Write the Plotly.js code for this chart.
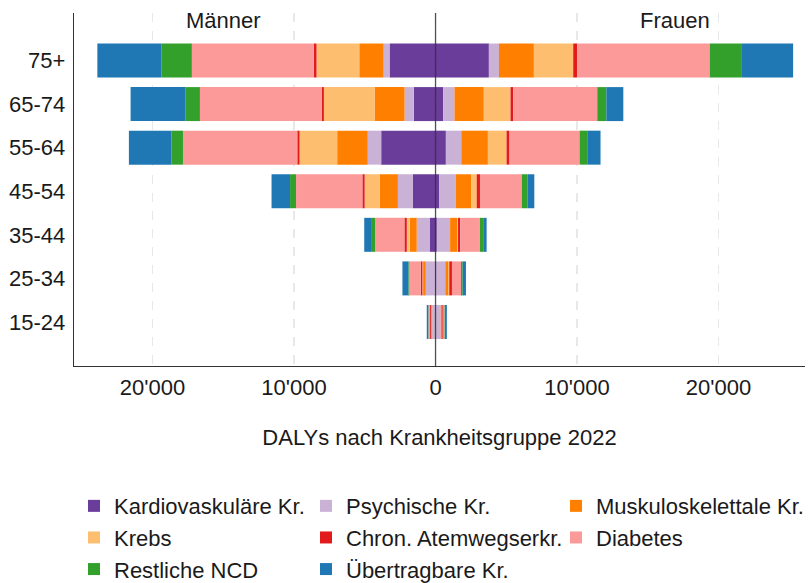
<!DOCTYPE html>
<html>
<head>
<meta charset="utf-8">
<script src="https://cdn.plot.ly/plotly-3.0.1.min.js"></script>
<style>html,body{margin:0;padding:0;background:#fff}#chart{width:809px;height:583px}</style>
</head>
<body>
<div id="chart"></div>
<script>
// Age groups (bottom to top)
const ageGroups = ['15-24', '25-34', '35-44', '45-54', '55-64', '65-74', '75+'];

// Disease groups (stacking order from centre outward)
const diseases = ['Kardiovaskuläre Kr.', 'Psychische Kr.', 'Muskuloskelettale Kr.', 'Krebs',
                  'Chron. Atemwegserkr.', 'Diabetes', 'Restliche NCD', 'Übertragbare Kr.'];
const colors = ['#6a3d9a', '#cab2d6', '#ff7f00', '#fdbf6f', '#e31a1c', '#fb9a99', '#33a02c', '#1f78b4'];

// DALYs, men (by age group, same order as ageGroups)
const menKardio   = [20, 50, 390, 1600, 3840, 1530, 3250];
const menPsych    = [220, 640, 940, 1060, 950, 660, 420];
const menMuskulo  = [70, 190, 490, 1290, 2160, 2120, 1720];
const menKrebs    = [20, 50, 210, 1060, 2660, 3580, 3020];
const menChron    = [90, 120, 170, 160, 160, 140, 190];
const menDiabetes = [70, 800, 2070, 4690, 8080, 8620, 8620];
const menRestl    = [20, 70, 230, 420, 820, 1010, 2140];
const menUebertr  = [110, 420, 540, 1310, 3000, 3890, 4540];

// DALYs, women
const womenKardio   = [20, 30, 90, 270, 730, 540, 3770];
const womenPsych    = [350, 660, 940, 1160, 1090, 800, 710];
const womenMuskulo  = [90, 230, 490, 1080, 1880, 2070, 2470];
const womenKrebs    = [20, 50, 70, 400, 1320, 1890, 2780];
const womenChron    = [90, 190, 160, 230, 210, 190, 280];
const womenDiabetes = [70, 640, 1390, 2950, 4950, 5940, 9370];
const womenRestl    = [20, 120, 230, 400, 540, 640, 2220];
const womenUebertr  = [140, 230, 240, 490, 940, 1200, 3670];

const tickVals = [-20000, -10000, 0, 10000, 20000];
const tickText = ["20'000", "10'000", "0", "10'000", "20'000"];

const menData = [menKardio, menPsych, menMuskulo, menKrebs, menChron, menDiabetes, menRestl, menUebertr];
const womenData = [womenKardio, womenPsych, womenMuskulo, womenKrebs, womenChron, womenDiabetes, womenRestl, womenUebertr];
const legendOf = ['legend', 'legend2', 'legend3', 'legend', 'legend2', 'legend3', 'legend', 'legend2'];

const traces = [];
diseases.forEach((d, i) => {
  traces.push({
    type: 'bar', orientation: 'h', name: d, legendgroup: d, showlegend: false,
    y: ageGroups, x: menData[i].map(v => -v),
    marker: {color: colors[i], line: {width: 0}}, hoverinfo: 'skip'
  });
  traces.push({
    type: 'bar', orientation: 'h', name: d, legendgroup: d, showlegend: true, legend: legendOf[i],
    y: ageGroups, x: womenData[i],
    marker: {color: colors[i], line: {width: 0}}, hoverinfo: 'skip'
  });
});

const font = {family: 'Liberation Sans, Arial, sans-serif', size: 22, color: '#1a1a1a'};
const legendBase = {font: font, orientation: 'v', xref: 'paper', yref: 'container',
                    yanchor: 'top', y: 0.168, xanchor: 'left',
                    bgcolor: 'rgba(0,0,0,0)', tracegroupgap: 0, itemclick: false};

const layout = {
  width: 809, height: 583,
  margin: {l: 74, r: 4, t: 13, b: 217},
  paper_bgcolor: '#fff', plot_bgcolor: '#fff',
  font: font,
  barmode: 'relative', bargap: 0.22,
  xaxis: {
    range: [-25550, 26110], tickvals: tickVals, ticktext: tickText,
    showgrid: true, gridcolor: '#e8e8e8', griddash: 'dash', gridwidth: 1.5,
    zeroline: false, showline: true, linecolor: '#333', linewidth: 1.3,
    ticks: '', ticklabelstandoff: 1, tickfont: font,
    title: {text: 'DALYs nach Krankheitsgruppe 2022', font: font, standoff: 31}
  },
  yaxis: {
    type: 'category', categoryorder: 'array', categoryarray: ageGroups,
    range: [-1.01, 7.09], showgrid: false, zeroline: false,
    showline: true, linecolor: '#333', linewidth: 1.3,
    ticks: '', ticklabelstandoff: 3, tickfont: font
  },
  shapes: [{type: 'line', xref: 'x', yref: 'paper', x0: 0, x1: 0, y0: 0, y1: 1,
            layer: 'above', line: {color: 'rgba(40,40,40,0.8)', width: 1.3}}],
  annotations: [
    {text: 'Männer', x: -15000, xref: 'x', y: 0.98, yref: 'paper', showarrow: false, font: font, xanchor: 'center', yanchor: 'middle'},
    {text: 'Frauen', x: 16900, xref: 'x', y: 0.98, yref: 'paper', showarrow: false, font: font, xanchor: 'center', yanchor: 'middle'}
  ],
  legend: Object.assign({}, legendBase, {x: 0}),
  legend2: Object.assign({}, legendBase, {x: 232 / 731}),
  legend3: Object.assign({}, legendBase, {x: 488 / 731})
};

Plotly.newPlot('chart', traces, layout, {displayModeBar: false, staticPlot: true});
</script>
</body>
</html>
